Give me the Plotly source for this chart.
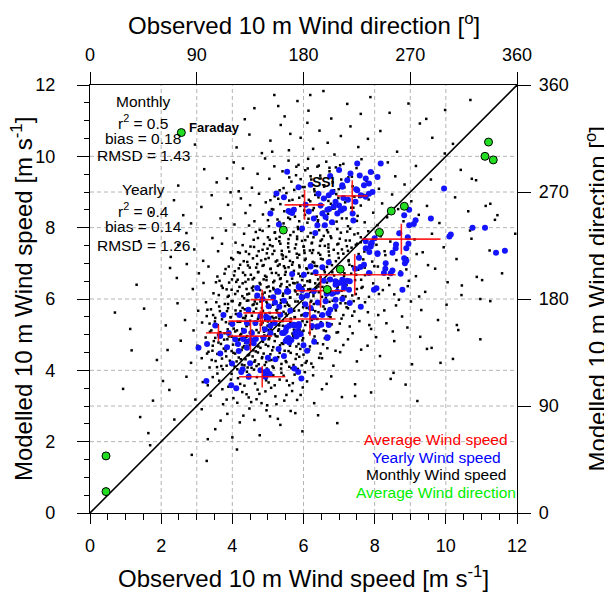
import plotly.graph_objects as go

# ---------------- data ----------------
speed_ticks = [0, 2, 4, 6, 8, 10, 12]
dir_ticks = [0, 90, 180, 270, 360]
speed_range = [0, 12]
dir_range = [0, 360]

# Average wind speed per station (observed, modelled) with std-dev bars
avg_obs = [3.61, 4.51, 4.79, 4.84, 4.84, 4.84, 6.18, 6.48, 7.44, 8.75, 6.03, 7.37]
avg_mod = [5.05, 4.96, 5.38, 5.61, 5.98, 3.82, 5.44, 6.23, 6.68, 7.68, 8.64, 8.89]
avg_obs_sd = [0.35, 0.61, 0.90, 0.53, 0.33, 0.65, 0.72, 0.70, 1.15, 1.10, 0.56, 0.43]
avg_mod_sd = [0.23, 0.42, 0.30, 0.35, 0.28, 0.30, 0.47, 0.47, 0.58, 0.43, 0.42, 0.44]

# Average wind direction per station (degrees)
dir_obs = [13.5, 13.5, 77, 163, 200, 211, 244, 254, 265, 336, 333, 340]
dir_mod = [18, 48, 320, 238, 188, 205, 236, 254, 258, 312, 300, 297]

# Yearly wind speed (observed, modelled)
yearly_points = [
    (5.54,9.57),(5.24,8.96),(5.45,8.85),(5.07,8.4),(5.62,8.44),(5.68,8.41),(5.58,8.47),(5.31,8.09),(5.86,9.13),
    (7.51,9.8),(8.17,9.8),(7.09,9.15),(7.58,9.46),(5.73,8.5),(6.06,8.64),(6.15,8.45),(6.29,8.26),(6.57,8.82),
    (6.71,8.91),(6.81,9.0),(6.9,8.73),(6.85,8.59),(7.0,8.62),(7.05,8.48),(7.14,8.54),(6.95,8.4),(6.72,8.52),
    (6.67,8.5),(7.09,9.19),(7.23,9.33),(7.48,9.08),(7.51,9.05),(7.61,8.91),(7.46,8.73),(7.7,9.19),(7.75,9.38),
    (7.84,9.24),(7.84,8.95),(7.75,8.87),(7.94,9.0),(7.89,9.56),(8.08,9.42),(7.32,9.52),(7.12,8.83),(7.25,8.78),
    (6.53,8.4),(6.39,8.07),(6.6,8.07),(6.33,7.85),(5.96,7.98),(6.8,8.15),(6.48,8.62),(6.62,8.3),(6.42,8.95),
    (7.38,8.4),(6.2,9.2),(6.75,9.45),(7.0,9.62),(7.4,8.2),(8.69,7.84),(8.93,7.73),(8.95,7.55),(8.89,7.42),
    (8.6,7.53),(8.83,7.14),(8.97,8.5),(8.83,8.35),(9.15,8.21),(9.58,8.26),(9.95,9.1),(9.1,8.1),(8.97,8.07),
    (7.89,7.47),(7.75,7.62),(8.0,7.7),(8.08,7.28),(8.5,7.3),(8.45,6.72),(7.7,6.96),(7.84,6.73),(8.3,6.85),
    (8.5,6.8),(10.75,8.0),(11.1,8.0),(10.1,7.75),(10.14,7.81),(11.41,7.3),(11.66,7.35),(7.14,6.4),(7.3,6.5),
    (7.0,6.45),(6.9,6.5),
    (5.68,6.7),(5.87,6.33),(6.01,6.68),(6.2,6.91),(6.34,6.75),(6.53,6.89),(6.71,7.03),(6.57,6.51),(6.75,6.55),
    (6.9,6.4),(7.09,6.54),(7.23,6.51),(7.14,6.31),(7.28,6.26),(6.95,6.2),(6.8,6.15),(5.54,6.22),(5.96,6.25),
    (6.29,6.22),(6.65,6.15),(6.62,5.94),(6.9,5.98),(7.09,6.0),(7.3,5.89),(7.61,5.78),(6.9,5.8),(6.75,5.7),
    (6.7,5.6),(6.53,5.55),(6.29,5.49),(6.06,5.56),(5.87,5.3),(5.75,5.26),(5.6,5.25),(5.5,5.1),(5.52,5.2),
    (6.24,5.24),(6.4,5.23),(6.5,5.28),(6.71,5.27),(6.67,4.93),(5.92,5.02),(5.8,4.95),(7.56,7.16),(7.75,7.42),
    (7.89,7.52),(7.92,7.58),(8.08,7.26),(7.85,7.32),(8.59,7.42),(8.73,6.71),(8.89,7.07),(8.85,7.0),(8.78,6.26),
    (7.98,6.26),(8.05,6.3),(8.26,6.73),(8.31,7.0),(7.6,6.9),(7.45,6.85),
    (4.7,6.31),(5.3,6.2),(5.54,6.2),(5.87,6.36),(5.02,5.8),(5.32,5.78),(4.79,5.52),(4.95,5.5),(5.02,5.46),
    (5.35,5.56),(5.63,5.67),(5.87,5.24),(5.72,5.28),(5.19,5.33),(5.07,5.25),(4.41,5.33),(4.65,5.33),(3.52,5.26),
    (3.66,4.96),(3.9,5.05),(4.08,4.87),(4.16,4.74),(4.3,4.88),(4.41,4.8),(4.52,4.85),(4.6,4.76),(4.66,4.88),
    (4.88,4.91),(5.07,5.05),(5.4,5.05),(5.58,4.91),(5.66,4.85),(5.77,5.05),(5.84,5.0),(3.05,4.63),(3.29,4.74),
    (3.66,4.47),(4.18,4.54),(4.41,4.63),(5.0,4.35),(5.21,4.31),(5.45,4.4),(5.5,4.82),(5.6,4.78),(3.99,4.19),
    (4.29,4.03),(4.79,4.0),(4.93,3.95),(4.98,3.98),(5.05,3.9),(3.27,3.7),(3.97,3.58),(4.11,3.5),(4.46,3.82),
    (4.93,3.82),(5.74,4.05),(5.85,3.95),(5.45,5.05),(5.54,4.87),(5.82,5.1),(5.26,6.22),(5.57,6.21),(4.92,5.15),
    (4.55,5.05),(4.33,5.1),(5.94,3.77),(6.67,4.91),(4.7,6.1),(4.85,6.0),(5.15,6.05),(5.2,5.9),(5.45,5.95),
    (5.95,6.05),(6.1,6.1),(6.05,5.85),(6.2,5.75),(6.4,5.9),(6.0,4.7),(6.3,4.8),(6.1,4.55),(5.3,4.6),(4.5,4.2),
    (4.25,3.95),(3.85,4.65),(4.0,5.3),(4.2,5.55),(4.45,5.7),(3.75,5.55),
]

# Monthly wind speed (observed, modelled)
monthly_points = [
    (4.62,11.35),(5.18,11.72),(5.47,11.12),(5.83,11.55),(5.29,11.41),(6.14,11.28),(6.56,11.83),(6.78,11.06),
    (7.23,11.47),(7.61,11.19),(7.88,11.66),(4.35,11.04),(8.42,11.22),(6.19,11.72),
    (2.95,10.33),(3.71,10.82),(4.12,10.25),(4.48,10.61),(4.83,10.09),(5.07,10.44),(5.36,10.88),(5.59,10.17),
    (5.63,10.63),(5.92,10.52),(6.11,10.94),(6.27,10.21),(6.45,10.72),(6.68,10.38),(6.87,10.05),(7.05,10.57),
    (7.32,10.84),(7.54,10.26),(7.81,10.49),(8.16,10.71),(8.63,10.13),(9.27,10.92),(5.12,10.13),
    (2.48,9.18),(3.21,9.64),(3.56,9.27),(3.85,9.38),(4.04,9.83),(4.3,9.66),(4.55,9.12),(4.71,9.51),(4.92,9.94),
    (5.04,9.37),(5.18,9.72),(5.33,9.05),(5.41,9.58),(5.58,9.88),(5.66,9.29),(5.79,9.47),(5.86,9.76),(5.97,9.14),
    (6.05,9.61),(6.13,9.93),(6.22,9.35),(6.31,9.02),(6.39,9.71),(6.47,9.46),(6.58,9.19),(6.64,9.85),(6.73,9.58),
    (6.82,9.27),(6.91,9.69),(6.99,9.08),(7.12,9.79),(7.26,9.41),(7.38,9.16),(7.49,9.67),(7.63,9.92),(7.77,9.31),
    (7.95,9.55),(8.12,9.09),(8.37,9.83),(8.58,9.44),(8.84,9.21),(9.16,9.73),(9.58,9.35),(10.42,9.62),(4.18,9.02),
    (1.72,8.43),(2.36,8.77),(2.84,8.12),(3.13,8.58),(3.42,8.91),(3.67,8.26),(3.88,8.64),(4.06,8.09),(4.24,8.82),
    (4.37,8.41),(4.5,8.63),(4.62,8.18),(4.75,8.95),(4.86,8.37),(4.94,8.71),(5.03,8.04),(5.11,8.52),(5.19,8.88),
    (5.27,8.23),(5.35,8.66),(5.44,8.12),(5.52,8.97),(5.6,8.45),(5.69,8.78),(5.76,8.31),(5.84,8.02),(5.91,8.61),
    (5.98,8.89),(6.04,8.36),(6.11,8.14),(6.19,8.74),(6.26,8.49),(6.33,8.92),(6.41,8.21),(6.48,8.58),(6.55,8.05),
    (6.62,8.83),(6.69,8.39),(6.77,8.67),(6.84,8.11),(6.92,8.94),(7.0,8.47),(7.08,8.26),(7.17,8.71),(7.25,8.04),
    (7.34,8.56),(7.43,8.87),(7.52,8.33),(7.61,8.62),(7.72,8.15),(7.83,8.79),(7.96,8.42),(8.08,8.07),(8.21,8.68),
    (8.35,8.29),(8.49,8.93),(8.66,8.52),(8.81,8.18),(9.03,8.74),(9.24,8.36),(9.47,8.61),(9.82,8.13),(10.26,8.85),
    (10.63,8.46),(11.38,8.22),(3.95,8.99),(5.57,8.28),(6.37,8.31),(4.47,8.06),(5.07,8.77),(6.88,8.54),(7.68,8.92),
    (2.62,8.35),
    (1.38,7.62),(2.27,7.18),(2.71,7.85),(2.93,7.39),(3.18,7.07),(3.44,7.71),(3.6,7.34),(3.82,7.92),(3.97,7.15),
    (4.09,7.58),(4.21,7.29),(4.33,7.83),(4.42,7.04),(4.51,7.47),(4.6,7.66),(4.69,7.21),(4.77,7.94),(4.85,7.38),
    (4.93,7.12),(5.0,7.73),(5.06,7.51),(5.13,7.26),(5.2,7.87),(5.26,7.08),(5.32,7.62),(5.39,7.35),(5.45,7.95),
    (5.51,7.18),(5.57,7.56),(5.63,7.79),(5.7,7.03),(5.76,7.42),(5.82,7.68),(5.88,7.24),(5.94,7.91),(6.0,7.47),
    (6.06,7.13),(6.12,7.75),(6.18,7.36),(6.24,7.58),(6.3,7.02),(6.36,7.84),(6.42,7.29),(6.48,7.63),(6.54,7.11),
    (6.6,7.49),(6.66,7.93),(6.72,7.22),(6.78,7.71),(6.85,7.38),(6.91,7.06),(6.98,7.55),(7.05,7.86),(7.12,7.27),
    (7.19,7.64),(7.27,7.09),(7.35,7.44),(7.43,7.81),(7.52,7.17),(7.61,7.59),(7.71,7.33),(7.82,7.9),(7.93,7.05),
    (8.05,7.52),(8.17,7.76),(8.3,7.23),(8.44,7.61),(8.58,7.4),(8.73,7.88),(8.91,7.14),(9.12,7.67),(9.35,7.31),
    (9.61,7.83),(9.94,7.45),(10.3,7.12),(10.72,7.69),(11.23,7.36),(4.38,7.33),(4.99,7.41),(5.42,7.22),(5.85,7.96),
    (6.27,7.37),(6.7,7.53),(7.08,7.39),(7.47,7.52),(3.71,7.55),(2.48,7.52),(5.23,7.69),(6.03,7.29),(6.57,7.77),
    (7.31,7.97),(4.66,7.88),(5.96,7.63),
    (1.31,6.4),(2.25,6.87),(2.44,6.59),(2.72,6.98),(2.89,6.28),(3.06,6.72),(3.19,6.45),(3.33,6.91),(3.47,6.16),
    (3.58,6.63),(3.7,6.37),(3.81,6.84),(3.9,6.09),(3.99,6.55),(4.07,6.78),(4.15,6.22),(4.22,6.96),(4.29,6.44),
    (4.36,6.67),(4.42,6.13),(4.49,6.88),(4.55,6.31),(4.61,6.59),(4.67,6.05),(4.73,6.76),(4.79,6.41),(4.85,6.93),
    (4.91,6.18),(4.96,6.62),(5.02,6.35),(5.07,6.84),(5.12,6.07),(5.18,6.51),(5.23,6.73),(5.28,6.26),(5.33,6.97),
    (5.38,6.42),(5.43,6.15),(5.48,6.68),(5.53,6.33),(5.58,6.89),(5.63,6.04),(5.68,6.57),(5.73,6.79),(5.78,6.21),
    (5.83,6.46),(5.88,6.94),(5.93,6.12),(5.98,6.63),(6.03,6.38),(6.08,6.86),(6.13,6.27),(6.18,6.52),(6.23,6.71),
    (6.28,6.08),(6.33,6.44),(6.38,6.92),(6.43,6.19),(6.48,6.61),(6.53,6.34),(6.58,6.81),(6.63,6.03),(6.69,6.56),
    (6.75,6.29),(6.81,6.75),(6.87,6.14),(6.93,6.48),(7.0,6.88),(7.07,6.23),(7.14,6.64),(7.21,6.39),(7.29,6.96),
    (7.37,6.1),(7.45,6.53),(7.54,6.82),(7.63,6.31),(7.73,6.67),(7.84,6.06),(7.96,6.44),(8.09,6.91),(8.23,6.25),
    (8.38,6.58),(8.55,6.13),(8.72,6.77),(8.93,6.36),(9.16,6.64),(9.42,6.2),(9.7,6.85),(10.05,6.47),(10.44,6.11),
    (11.02,6.53),(4.11,6.48),(4.58,6.24),(4.88,6.55),(5.15,6.31),(5.45,6.92),(5.71,6.45),(5.96,6.25),(6.21,6.96),
    (6.46,6.43),(6.71,6.17),(6.96,6.35),(3.54,6.47),(3.84,6.27),(4.33,6.02),(4.7,6.98),(5.06,6.22),(5.36,6.58),
    (5.61,6.39),(5.86,6.71),(6.11,6.5),(6.36,6.31),(6.66,6.9),(7.18,6.07),(7.5,6.28),(7.9,6.73),(4.45,6.55),
    (1.52,5.73),(2.13,5.26),(2.46,5.88),(2.67,5.41),(2.91,5.12),(3.04,5.67),(3.15,5.34),(3.26,5.91),(3.37,5.08),
    (3.46,5.55),(3.55,5.22),(3.63,5.79),(3.71,5.43),(3.78,5.04),(3.85,5.66),(3.92,5.31),(3.98,5.94),(4.04,5.17),
    (4.1,5.58),(4.15,5.36),(4.2,5.83),(4.25,5.02),(4.3,5.47),(4.35,5.71),(4.4,5.24),(4.45,5.96),(4.5,5.39),
    (4.55,5.11),(4.6,5.64),(4.64,5.28),(4.69,5.87),(4.74,5.06),(4.78,5.51),(4.83,5.75),(4.87,5.19),(4.92,5.42),
    (4.96,5.92),(5.01,5.13),(5.05,5.61),(5.1,5.33),(5.14,5.84),(5.19,5.01),(5.23,5.48),(5.28,5.72),(5.32,5.26),
    (5.37,5.97),(5.41,5.38),(5.46,5.09),(5.5,5.59),(5.55,5.21),(5.6,5.81),(5.64,5.45),(5.69,5.03),(5.74,5.67),
    (5.79,5.31),(5.84,5.93),(5.89,5.14),(5.94,5.54),(5.99,5.77),(6.05,5.27),(6.11,5.6),(6.17,5.05),(6.23,5.41),
    (6.29,5.86),(6.35,5.18),(6.42,5.63),(6.49,5.35),(6.56,5.79),(6.63,5.1),(6.71,5.52),(6.79,5.29),(6.88,5.74),
    (6.97,5.07),(7.07,5.45),(7.18,5.88),(7.3,5.23),(7.43,5.65),(7.57,5.38),(7.73,5.91),(7.9,5.16),(8.1,5.55),
    (8.33,5.32),(8.6,5.82),(8.92,5.2),(9.31,5.69),(9.78,5.41),(10.35,5.13),(3.3,5.7),(3.6,5.0),(3.88,5.86),
    (4.13,5.12),(4.38,5.53),(4.63,5.93),(4.85,5.34),(5.07,5.78),(5.31,5.15),(5.53,5.9),(5.76,5.49),(6.0,5.11),
    (6.26,5.7),(6.52,5.57),(4.23,5.66),(4.47,5.29),(4.72,5.44),(4.99,5.25),(5.26,5.62),(5.48,5.8),(5.71,5.23),
    (5.97,5.38),(6.39,5.44),(3.51,5.37),(3.95,5.49),(4.57,5.83),(4.81,5.6),(5.16,5.46),(5.62,5.69),(6.2,5.92),
    (6.82,5.95),(7.37,5.53),
    (2.18,4.57),(2.55,4.83),(2.84,4.21),(3.02,4.69),(3.14,4.34),(3.25,4.92),(3.36,4.08),(3.44,4.55),(3.53,4.26),
    (3.61,4.78),(3.69,4.12),(3.76,4.61),(3.83,4.39),(3.9,4.95),(3.96,4.18),(4.02,4.72),(4.08,4.47),(4.14,4.03),
    (4.19,4.86),(4.24,4.31),(4.29,4.64),(4.34,4.14),(4.39,4.93),(4.44,4.42),(4.49,4.71),(4.54,4.07),(4.59,4.56),
    (4.64,4.28),(4.69,4.88),(4.74,4.17),(4.79,4.63),(4.84,4.37),(4.9,4.98),(4.95,4.23),(5.01,4.68),(5.07,4.45),
    (5.13,4.11),(5.19,4.82),(5.25,4.33),(5.31,4.59),(5.37,4.05),(5.43,4.74),(5.5,4.26),(5.57,4.91),(5.64,4.49),
    (5.72,4.15),(5.8,4.67),(5.88,4.38),(5.97,4.84),(6.06,4.21),(6.16,4.58),(6.27,4.09),(6.39,4.76),(6.52,4.34),
    (6.67,4.62),(6.84,4.13),(7.03,4.51),(7.25,4.87),(7.5,4.25),(7.8,4.69),(8.15,4.4),(8.55,4.82),(9.05,4.17),
    (9.6,4.63),(10.2,4.32),(3.48,4.82),(3.73,4.03),(3.98,4.54),(4.22,4.99),(4.47,4.22),(4.72,4.5),(4.97,4.05),
    (5.22,4.96),(5.47,4.55),(5.73,4.92),(6.0,4.44),(6.31,4.95),(4.12,4.25),(4.36,4.77),(4.61,4.02),(4.86,4.8),
    (5.1,4.29),(5.34,4.7),(5.6,4.1),(5.91,4.6),(6.6,4.9),(3.29,4.47),(3.86,4.87),(4.57,4.39),(5.04,4.9),(5.84,4.04),
    (2.23,3.45),(2.71,3.82),(2.96,3.18),(3.17,3.67),(3.39,3.29),(3.58,3.91),(3.74,3.05),(3.89,3.54),(4.03,3.22),
    (4.16,3.78),(4.28,3.39),(4.41,3.96),(4.53,3.11),(4.64,3.63),(4.76,3.34),(4.87,3.85),(4.98,3.02),(5.09,3.51),
    (5.21,3.27),(5.33,3.74),(5.46,3.15),(5.6,3.58),(5.75,3.88),(5.92,3.31),(6.1,3.69),(6.3,3.08),(6.52,3.47),
    (6.78,3.83),(7.08,3.25),(7.45,3.61),(7.9,3.38),(8.45,3.76),(9.2,3.14),(3.63,3.71),(3.98,3.9),(4.34,3.57),
    (4.69,3.81),(5.02,3.66),(5.38,3.93),(5.68,3.42),(4.46,3.24),(4.82,3.08),(5.15,3.86),(3.31,3.58),(4.1,3.46),
    (5.53,3.71),(6.04,3.95),(6.65,3.62),
    (2.37,2.62),(3.14,2.91),(3.52,2.35),(3.86,2.78),(4.21,2.54),(4.48,2.93),(4.77,2.18),(5.06,2.71),(5.35,2.47),
    (5.64,2.86),(5.97,2.29),(6.41,2.74),(6.95,2.52),(4.0,2.12),(3.31,2.07),
    (3.28,1.46),(4.13,1.78),(2.86,1.63),
    (1.41,2.69),(1.64,2.24),(1.69,1.9),(0.7,5.62),(1.13,5.16),(1.17,4.56),(1.88,4.29),(0.93,3.48),(1.77,3.15),(2.05,3.7),
    (10.31,5.27),(9.28,4.94),(9.47,4.6),(8.53,3.93),(7.45,3.28),(5.77,2.8),(10.97,6.0),(11.25,5.94),(10.97,4.87),
    (10.45,6.38),(10.02,5.84),(9.85,4.21),(8.87,3.6),(11.58,6.72),(10.68,7.92),(11.12,8.61),(10.85,9.33),(9.97,10.08),
    (10.69,11.58),(9.98,11.3),(10.2,10.35),(10.73,9.37),(11.25,8.67),(11.45,8.35),(11.95,7.83),(10.87,6.62),
    (9.45,11.05),(8.95,11.48),(9.62,10.52),
    # dense core
    (3.57,4.09),(3.84,4.13),(4.06,4.11),(4.27,4.16),(4.43,4.08),(4.68,4.12),(4.91,4.15),(5.16,4.07),(5.38,4.18),
    (5.66,4.06),(5.95,4.14),(6.22,4.19),
    (3.42,4.29),(3.71,4.33),(3.93,4.27),(4.18,4.36),(4.37,4.31),(4.62,4.24),(4.83,4.34),(5.04,4.28),(5.29,4.37),
    (5.52,4.23),(5.78,4.32),(6.09,4.26),(6.44,4.35),
    (3.33,4.52),(3.58,4.46),(3.81,4.54),(4.03,4.49),(4.26,4.57),(4.47,4.44),(4.66,4.53),(4.88,4.47),(5.12,4.56),
    (5.33,4.49),(5.58,4.54),(5.81,4.45),(6.13,4.52),(6.48,4.47),(6.9,4.55),
    (3.45,4.69),(3.68,4.74),(3.89,4.66),(4.11,4.73),(4.33,4.68),(4.52,4.75),(4.73,4.67),(4.94,4.72),(5.15,4.65),
    (5.39,4.76),(5.62,4.69),(5.86,4.74),(6.18,4.67),(6.55,4.73),
    (3.52,4.91),(3.77,4.86),(3.98,4.94),(4.21,4.88),(4.42,4.96),(4.63,4.89),(4.82,4.93),(5.02,4.87),(5.27,4.95),
    (5.49,4.88),(5.71,4.97),(5.99,4.9),(6.28,4.86),(6.72,4.94),
    (3.41,5.12),(3.66,5.07),(3.87,5.15),(4.08,5.09),(4.28,5.16),(4.49,5.06),(4.68,5.13),(4.89,5.08),(5.08,5.17),
    (5.29,5.11),(5.51,5.05),(5.73,5.14),(5.96,5.08),(6.24,5.16),(6.57,5.12),(6.93,5.06),
    (3.36,5.31),(3.59,5.27),(3.82,5.35),(4.02,5.29),(4.22,5.36),(4.41,5.26),(4.61,5.33),(4.8,5.28),(5.0,5.37),
    (5.21,5.3),(5.42,5.25),(5.63,5.34),(5.86,5.29),(6.1,5.36),(6.37,5.27),(6.66,5.33),(7.02,5.31),
    (3.28,5.52),(3.52,5.47),(3.74,5.55),(3.96,5.49),(4.16,5.56),(4.36,5.46),(4.55,5.53),(4.74,5.48),(4.93,5.57),
    (5.12,5.5),(5.32,5.45),(5.53,5.54),(5.75,5.49),(5.98,5.56),(6.22,5.47),(6.47,5.53),(6.76,5.49),(7.12,5.55),
    (3.4,5.71),(3.65,5.66),(3.88,5.74),(4.09,5.68),(4.29,5.75),(4.48,5.65),(4.67,5.73),(4.86,5.67),(5.05,5.76),
    (5.24,5.69),(5.44,5.64),(5.65,5.73),(5.87,5.68),(6.09,5.75),(6.33,5.66),(6.6,5.72),(6.91,5.68),(7.25,5.74),
    (3.55,5.91),(3.79,5.86),(4.01,5.94),(4.22,5.88),(4.41,5.95),(4.6,5.85),(4.79,5.93),(4.98,5.87),(5.17,5.96),
    (5.36,5.89),(5.56,5.84),(5.77,5.93),(5.99,5.88),(6.22,5.95),(6.46,5.86),(6.73,5.92),(7.04,5.88),(7.41,5.94),
    (3.62,6.11),(3.87,6.06),(4.08,6.14),(4.28,6.08),(4.47,6.15),(4.66,6.05),(4.85,6.13),(5.04,6.07),(5.23,6.16),
    (5.42,6.09),(5.62,6.04),(5.83,6.13),(6.05,6.08),(6.28,6.15),(6.52,6.06),(6.79,6.12),(7.1,6.08),(7.47,6.14),
    (3.73,6.31),(3.98,6.26),(4.2,6.34),(4.4,6.28),(4.59,6.35),(4.78,6.25),(4.97,6.33),(5.16,6.27),(5.35,6.36),
    (5.55,6.29),(5.76,6.24),(5.97,6.33),(6.19,6.28),(6.42,6.35),(6.67,6.26),(6.95,6.32),(7.28,6.28),(7.66,6.34),
    (3.64,6.51),(3.91,6.46),(4.15,6.54),(4.37,6.48),(4.57,6.55),(4.77,6.45),(4.96,6.53),(5.15,6.47),(5.34,6.56),
    (5.54,6.49),(5.75,6.44),(5.96,6.53),(6.18,6.48),(6.41,6.55),(6.66,6.46),(6.94,6.52),(7.26,6.48),(7.62,6.54),
    (3.78,6.71),(4.05,6.66),(4.3,6.74),(4.52,6.68),(4.72,6.75),(4.92,6.65),(5.11,6.73),(5.3,6.67),(5.5,6.76),
    (5.7,6.69),(5.91,6.64),(6.13,6.73),(6.36,6.68),(6.6,6.75),(6.86,6.66),(7.15,6.72),(7.48,6.68),(7.86,6.74),
    (3.9,6.91),(4.18,6.86),(4.44,6.94),(4.67,6.88),(4.88,6.95),(5.08,6.85),(5.28,6.93),(5.48,6.87),(5.68,6.96),
    (5.89,6.89),(6.1,6.84),(6.32,6.93),(6.55,6.88),(6.8,6.95),(7.07,6.86),(7.37,6.92),(7.72,6.88),
    (4.02,7.11),(4.32,7.06),(4.58,7.14),(4.81,7.08),(5.02,7.15),(5.22,7.05),(5.42,7.13),(5.62,7.07),(5.83,7.16),
    (6.04,7.09),(6.26,7.04),(6.49,7.13),(6.73,7.08),(6.99,7.15),(7.27,7.06),(7.58,7.12),
    (4.16,7.31),(4.47,7.26),(4.74,7.34),(4.97,7.28),(5.18,7.35),(5.39,7.25),(5.6,7.33),(5.81,7.27),(6.02,7.36),
    (6.24,7.29),(6.47,7.24),(6.71,7.33),(6.97,7.28),(7.25,7.35),(7.55,7.26),
    (4.29,7.51),(4.61,7.46),(4.89,7.54),(5.13,7.48),(5.35,7.55),(5.57,7.45),(5.79,7.53),(6.01,7.47),(6.23,7.56),
    (6.46,7.49),(6.7,7.44),(6.95,7.53),(7.22,7.48),(7.51,7.55),
    # SSI band
    (4.72,7.71),(5.05,7.66),(5.33,7.74),(5.58,7.68),(5.82,7.75),(6.05,7.65),(6.28,7.73),(6.52,7.67),(6.76,7.76),
    (7.02,7.69),(7.3,7.64),(7.61,7.73),
    (4.85,7.91),(5.19,7.86),(5.47,7.94),(5.72,7.88),(5.96,7.95),(6.2,7.85),(6.44,7.93),(6.69,7.87),(6.95,7.96),
    (7.23,7.89),(7.53,7.84),
    (5.0,8.21),(5.32,8.16),(5.62,8.24),(5.88,8.18),(6.14,8.25),(6.4,8.15),(6.66,8.23),(6.93,8.17),(7.21,8.26),(7.5,8.19),
    (5.15,8.51),(5.46,8.46),(5.75,8.54),(6.02,8.48),(6.29,8.55),(6.56,8.45),(6.83,8.53),(7.11,8.47),(7.4,8.56),
    (5.29,8.81),(5.6,8.76),(5.88,8.84),(6.15,8.78),(6.42,8.85),(6.7,8.75),(6.98,8.83),(7.27,8.77),(7.57,8.86),
    (5.44,9.11),(5.74,9.06),(6.03,9.14),(6.3,9.08),(6.58,9.15),(6.86,9.05),(7.15,9.13),(7.45,9.07),
    (5.6,9.41),(5.92,9.36),(6.2,9.44),(6.48,9.38),(6.77,9.45),(7.06,9.35),(7.36,9.43),
    (5.8,9.71),(6.12,9.66),(6.43,9.74),(6.73,9.68),(7.03,9.75),
    # lower band
    (3.45,3.81),(3.72,3.47),(3.96,3.74),(4.22,3.62),(4.47,3.88),(4.71,3.46),(4.95,3.72),(5.19,3.58),(5.44,3.85),
    (5.7,3.64),(5.98,3.52),(6.27,3.86),(3.84,3.18),(4.14,3.09),(4.4,3.33),(4.68,3.19),(4.93,3.41),(5.24,3.05),
    (5.52,3.31),(5.82,3.17),(4.31,2.73),(4.62,2.61),(4.96,2.88),(5.28,2.64),(3.67,2.59),
    # right of the diagonal
    (7.12,4.71),(7.38,5.04),(7.62,4.58),(7.85,5.27),(8.04,4.93),(8.27,5.68),(8.51,5.09),(8.77,5.51),(9.02,5.93),
    (7.21,5.77),(7.55,6.02),(7.81,5.63),(8.12,6.14),(8.41,6.39),(8.68,5.98),(8.96,6.51),(9.25,6.07),(7.34,6.71),
    (7.68,7.11),(7.99,6.92),(8.28,7.34),(8.61,7.09),(8.89,6.83),(9.18,7.26),(9.5,6.95),
]

monthly_obs = [p[0] for p in monthly_points]
monthly_mod = [p[1] for p in monthly_points]
yearly_obs = [p[0] for p in yearly_points]
yearly_mod = [p[1] for p in yearly_points]

monthly_stats = ["Monthly", "r<sup>2</sup> = 0.5", "bias = 0.18", "RMSD = 1.43"]
yearly_stats = ["Yearly", "r<sup>2</sup> = 0.4", "bias = 0.14", "RMSD = 1.26"]
legend_items = [("Average Wind speed", "#ff0000"), ("Yearly Wind speed", "#0000ff"),
                ("Monthly Wind speed", "#000000"), ("Average Wind direction", "#00ee00")]

FONT = "Liberation Sans, Arial, Helvetica, sans-serif"

# ---------------- figure ----------------
fig = go.Figure()

fig.add_trace(go.Scatter(x=monthly_obs, y=monthly_mod, mode="markers",
                         marker=dict(size=2.5, color="black", symbol="square", line=dict(width=0)),
                         hoverinfo="skip"))
fig.add_trace(go.Scatter(x=speed_range, y=speed_range, mode="lines",
                         line=dict(color="black", width=1.6), hoverinfo="skip"))
fig.add_trace(go.Scatter(x=yearly_obs, y=yearly_mod, mode="markers",
                         marker=dict(size=6, color="#1414ff", line=dict(width=0)), hoverinfo="skip"))
fig.add_trace(go.Scatter(x=avg_obs, y=avg_mod, mode="markers",
                         marker=dict(size=1, color="rgba(0,0,0,0)"),
                         error_x=dict(type="data", array=avg_obs_sd, color="rgba(255,0,0,0.85)", thickness=1.6, width=0),
                         error_y=dict(type="data", array=avg_mod_sd, color="rgba(255,0,0,0.85)", thickness=1.6, width=0),
                         hoverinfo="skip"))
fig.add_trace(go.Scatter(x=dir_obs, y=dir_mod, xaxis="x2", yaxis="y2", mode="markers",
                         marker=dict(size=8, color="#22dd22", line=dict(color="black", width=1)),
                         hoverinfo="skip"))

# grid lines at ticks of both speed and direction axes
grid_pos = sorted(set([t for t in speed_ticks] + [d * speed_range[1] / dir_range[1] for d in dir_ticks]))
grid_pos = [g for g in grid_pos if speed_range[0] < g < speed_range[1]]
for g in grid_pos:
    fig.add_shape(type="line", xref="x", yref="paper", x0=g, x1=g, y0=0, y1=1, layer="below",
                  line=dict(color="#b4b4b4", width=1, dash="4px,3px"))
    fig.add_shape(type="line", xref="paper", yref="y", x0=0, x1=1, y0=g, y1=g, layer="below",
                  line=dict(color="#b4b4b4", width=1, dash="4px,3px"))

axis_common = dict(showline=True, linecolor="black", linewidth=1.3, showgrid=False, zeroline=False,
                   ticks="outside", tickcolor="black", tickwidth=1.2,
                   tickfont=dict(size=18, family=FONT, color="black"))

# the page body adds an 8 px offset; figure is sized so the plot lands where the reference has it
fig.update_layout(
    width=604, height=587,
    margin=dict(l=82, r=95, t=77, b=82),
    plot_bgcolor="white", paper_bgcolor="white",
    showlegend=False,
    font=dict(family=FONT, color="black"),
    xaxis=dict(range=speed_range, tickvals=speed_ticks, ticklen=10, ticklabelstandoff=6,
               minor=dict(tick0=0, dtick=0.5, ticks="outside", ticklen=6, tickcolor="black", tickwidth=1.2),
               **axis_common),
    yaxis=dict(range=speed_range, tickvals=speed_ticks, ticklen=12, ticklabelstandoff=18,
               minor=dict(tick0=0, dtick=0.5, ticks="outside", ticklen=5, tickcolor="black", tickwidth=1.2),
               **axis_common),
    xaxis2=dict(range=dir_range, tickvals=dir_ticks, overlaying="x", side="top", ticklen=12,
                ticklabelstandoff=4, **axis_common),
    yaxis2=dict(range=dir_range, tickvals=dir_ticks, overlaying="y", side="right", ticklen=13,
                ticklabelstandoff=4, **axis_common),
)

ann = []
title_font = dict(size=24, family=FONT)
ann.append(dict(text="Observed 10 m Wind direction [<sup>o</sup>]", xref="paper", yref="paper",
                x=0.5, y=1.143, xanchor="center", yanchor="middle", showarrow=False, font=title_font))
ann.append(dict(text="Observed 10 m Wind speed [m s<sup>-1</sup>]", xref="paper", yref="paper",
                x=0.5, y=-0.1495, xanchor="center", yanchor="middle", showarrow=False, font=title_font))
ann.append(dict(text="Modelled 10 m Wind speed [m s<sup>-1</sup>]", xref="paper", yref="paper",
                x=-0.159, y=0.5, xanchor="center", yanchor="middle", textangle=-90, showarrow=False,
                font=title_font))
ann.append(dict(text="Modelled 10 m Wind direction [<sup>o</sup>]", xref="paper", yref="paper",
                x=1.184, y=0.5, xanchor="center", yanchor="middle", textangle=-90, showarrow=False,
                font=title_font))

stat_x = 1.49
for txt, yy in zip(monthly_stats, [11.53, 10.97, 10.5, 10.01]):
    ann.append(dict(text=txt, x=stat_x, y=yy, xref="x", yref="y", showarrow=False,
                    xanchor="center", yanchor="middle", font=dict(size=15.5, family=FONT)))
for txt, yy in zip(yearly_stats, [9.08, 8.49, 8.03, 7.51]):
    ann.append(dict(text=txt, x=stat_x, y=yy, xref="x", yref="y", showarrow=False,
                    xanchor="center", yanchor="middle", font=dict(size=15.5, family=FONT)))

ann.append(dict(text="<b>Faraday</b>", x=2.73, y=10.82, xref="x", yref="y", xanchor="left",
                yanchor="middle", showarrow=False, font=dict(size=13, family=FONT)))
ann.append(dict(text="<b>SSI</b>", x=6.55, y=9.29, xref="x", yref="y", xanchor="center",
                yanchor="middle", showarrow=False, font=dict(size=14, family=FONT)))

for (txt, col), yy in zip(legend_items, [2.05, 1.55, 1.07, 0.58]):
    ann.append(dict(text=txt, x=9.73, y=yy, xref="x", yref="y", showarrow=False,
                    xanchor="center", yanchor="middle", font=dict(size=15.5, family=FONT, color=col)))

fig.update_layout(annotations=ann)

fig.write_html("out.html")
